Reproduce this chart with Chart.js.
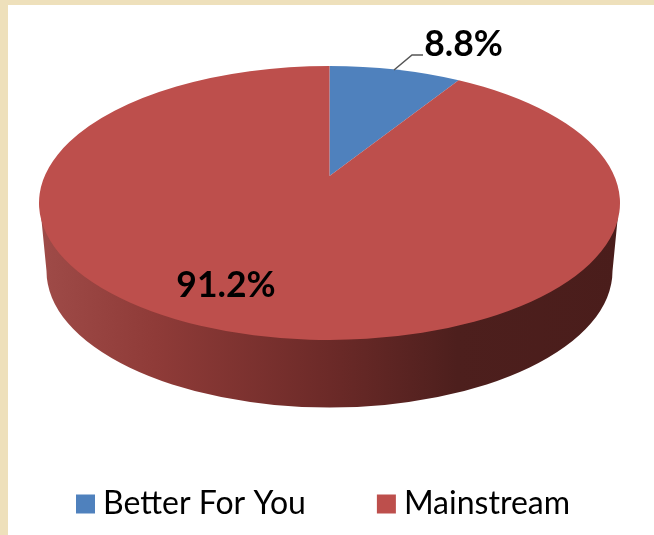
<!DOCTYPE html>
<html><head><meta charset="utf-8">
<style>
html,body{margin:0;padding:0;width:654px;height:535px;overflow:hidden;background:#eee0bb}
#panel{position:absolute;left:8px;top:5px;width:646px;height:530px;background:#fff}
#c{position:absolute;left:0;top:0}
</style>
<script src="https://cdn.jsdelivr.net/npm/chart.js@4"></script>
</head><body>
<div id="panel"></div>
<canvas id="c" width="654" height="535"></canvas>
<script>
const categories = ['Better For You', 'Mainstream'];
const shares = [8.8, 91.2];
const sliceColors = ['#4f81bd', '#bd4f4c'];

const pie3d = {
  id: 'pie3d',
  beforeDatasetsDraw(chart) {
    const ctx = chart.ctx;
    const cx = 329.5, cy = 203, rx = 290.5, ry = 137;
    const apexY = 176, tilt = 0.97;
    const by = 271, brx = 283, bry = 136.5;

    // side wall
    const g = ctx.createLinearGradient(cx - rx, 0, cx + rx, 0);
    g.addColorStop(0, '#9f4b48');
    g.addColorStop(0.2, '#8f3b38');
    g.addColorStop(0.5, '#6c2a28');
    g.addColorStop(0.72, '#4d1f1d');
    g.addColorStop(1, '#4a1d1b');
    ctx.save();
    ctx.fillStyle = g;
    ctx.beginPath();
    ctx.moveTo(cx - rx + 1, cy + 2);
    ctx.lineTo(cx + rx - 1, cy + 2);
    ctx.lineTo(cx + brx, by);
    ctx.ellipse(cx, by, brx, bry, 0, 0, Math.PI);
    ctx.closePath();
    ctx.fill();

    // top face: each slice is taken from the arc element's own angles
    const ay = (apexY - cy) / ry;
    const edge = ang => {
      const th = ang + Math.PI / 2, s = Math.sin(th), c = -Math.cos(th) * tilt;
      const A = s * s + c * c, b = ay * c;
      const t = (-b + Math.sqrt(b * b - A * (ay * ay - 1))) / A;
      return Math.atan2(ay + t * c, t * s);
    };
    const arcs = chart.getDatasetMeta(0).data;
    arcs.forEach((arc, i) => {
      const p = arc.getProps(['startAngle', 'endAngle'], true);
      let e0 = edge(p.startAngle), e1 = edge(p.endAngle);
      ctx.fillStyle = sliceColors[i];
      ctx.beginPath();
      ctx.moveTo(cx, apexY);
      ctx.ellipse(cx, cy, rx, ry, 0, e0, e1 <= e0 ? e1 + Math.PI * 2 : e1);
      ctx.closePath();
      ctx.fill();
    });

    // leader line
    ctx.strokeStyle = '#555';
    ctx.lineWidth = 1.5;
    ctx.beginPath();
    ctx.moveTo(394, 70);
    ctx.lineTo(412, 55);
    ctx.lineTo(423, 55);
    ctx.stroke();

    // value labels
    ctx.fillStyle = '#000';
    ctx.font = 'bold 35.5px Lato';
    ctx.textAlign = 'center';
    ctx.textBaseline = 'middle';
    const labelPos = [[463.5, 45], [226, 286]];
    shares.forEach((v, i) => ctx.fillText(v.toFixed(1) + '%', labelPos[i][0], labelPos[i][1]));
    ctx.restore();
    return false;
  }
};

new Chart(document.getElementById('c'), {
  type: 'pie',
  data: {
    labels: categories,
    datasets: [{
      data: shares,
      backgroundColor: sliceColors,
      borderColor: sliceColors,
      borderWidth: 16
    }]
  },
  options: {
    responsive: false,
    animation: false,
    layout: { padding: { left: 0, right: 0, top: 0, bottom: 5 } },
    plugins: {
      tooltip: { enabled: false },
      legend: {
        position: 'bottom',
        labels: {
          boxWidth: 3,
          boxHeight: 3,
          padding: 79,
          color: '#000',
          font: { family: 'Lato', size: 32 }
        }
      }
    }
  },
  plugins: [pie3d]
});
</script>
</body></html>
